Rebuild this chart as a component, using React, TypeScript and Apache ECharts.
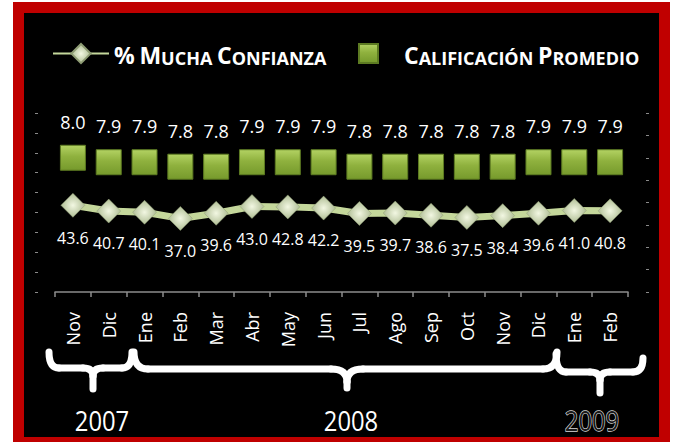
import React, { useEffect, useRef } from "react";
import * as echarts from "echarts";

const months = ["Nov", "Dic", "Ene", "Feb", "Mar", "Abr", "May", "Jun", "Jul", "Ago", "Sep", "Oct", "Nov", "Dic", "Ene", "Feb"];
const confianza = [43.6, 40.7, 40.1, 37.0, 39.6, 43.0, 42.8, 42.2, 39.5, 39.7, 38.6, 37.5, 38.4, 39.6, 41.0, 40.8];
const calificacion = [8.0, 7.9, 7.9, 7.8, 7.8, 7.9, 7.9, 7.9, 7.8, 7.8, 7.8, 7.8, 7.8, 7.9, 7.9, 7.9];
const years = ["2007", "2008", "2009"];
const seriesNames = ["% Mucha Confianza", "Calificación Promedio"];

const FONT = '"Open Sans", sans-serif';

function smallCaps(name: string): string {
  return name
    .split(" ")
    .map((w) => `{b|${w.charAt(0).toUpperCase()}}` + (w.length > 1 ? `{s|${w.slice(1).toUpperCase()}}` : ""))
    .join("{s| }");
}

function brace(x1: number, y1: number, x2: number, y2: number, xc: number, yb: number, ytip: number, rEnd: number, rMid: number) {
  const s = { stroke: "#ffffff", lineWidth: 7, fill: null, lineCap: "round", lineJoin: "round" };
  const dm = rMid * 0.8;
  return [
    { type: "bezierCurve", shape: { x1, y1, cpx1: x1, cpy1: yb, x2: x1 + rEnd, y2: yb }, style: s },
    { type: "line", shape: { x1: x1 + rEnd, y1: yb, x2: xc - rMid, y2: yb }, style: s },
    { type: "bezierCurve", shape: { x1: xc - rMid, y1: yb, cpx1: xc, cpy1: yb, x2: xc, y2: yb + dm }, style: s },
    { type: "line", shape: { x1: xc, y1: yb + dm, x2: xc, y2: ytip }, style: s },
    { type: "bezierCurve", shape: { x1: xc + rMid, y1: yb, cpx1: xc, cpy1: yb, x2: xc, y2: yb + dm }, style: s },
    { type: "line", shape: { x1: xc + rMid, y1: yb, x2: x2 - rEnd, y2: yb }, style: s },
    { type: "bezierCurve", shape: { x1: x2, y1: y2, cpx1: x2, cpy1: yb, x2: x2 - rEnd, y2: yb }, style: s },
  ];
}

export default function App() {
  const ref = useRef<HTMLDivElement>(null);
  useEffect(() => {
    if (!ref.current) return;
    const chart = echarts.init(ref.current, null, { renderer: "svg" });
    const rich = {
      b: { fontSize: 23, fontWeight: "bold", color: "#ffffff", fontFamily: FONT, verticalAlign: "bottom", lineHeight: 26 },
      s: { fontSize: 18, fontWeight: "bold", color: "#ffffff", fontFamily: FONT, verticalAlign: "bottom", lineHeight: 26 },
      gap: { width: 21 },
    };
    const squareFill = {
      type: "linear", x: 0, y: 0, x2: 0, y2: 1,
      colorStops: [
        { offset: 0, color: "#b3d263" },
        { offset: 0.45, color: "#8fb13e" },
        { offset: 1, color: "#769a2c" },
      ],
    };
    const diamondFill = {
      type: "radial", x: 0.5, y: 0.5, r: 0.6,
      colorStops: [
        { offset: 0, color: "#f2f7e2" },
        { offset: 1, color: "#a3b386" },
      ],
    };
    const graphics: any[] = [
      ...brace(49, 352, 132, 352, 93, 368, 389, 10, 10),
      ...brace(134, 352, 557, 352, 347, 369, 388, 14, 16),
      ...brace(556, 354, 643, 358, 600, 372, 393, 10, 10),
      { type: "text", x: 102, y: 420, scaleX: 0.85, style: { text: years[0], fill: "#ffffff", fontSize: 28, fontFamily: FONT, align: "center", verticalAlign: "middle" } },
      { type: "text", x: 351, y: 420, scaleX: 0.85, style: { text: years[1], fill: "#ffffff", fontSize: 28, fontFamily: FONT, align: "center", verticalAlign: "middle" } },
      { type: "text", x: 592, y: 420, scaleX: 0.85, style: { text: years[2], fill: "#1a1a1a", stroke: "#d8d8d8", lineWidth: 1.4, fontSize: 28, fontFamily: FONT, align: "center", verticalAlign: "middle" } },
    ];
    chart.setOption({
      animation: false,
      textStyle: { fontFamily: FONT },
      legend: [
        {
          data: [seriesNames[0]],
          left: 52, top: 43, padding: 0, itemWidth: 56, itemHeight: 24,
          formatter: (n: string) => smallCaps(n),
          textStyle: { color: "#ffffff", rich },
        },
        {
          data: [{ name: seriesNames[1], icon: "rect" }],
          left: 358, top: 43, padding: 0, itemWidth: 19, itemHeight: 19,
          formatter: (n: string) => "{gap|}" + smallCaps(n),
          textStyle: { color: "#ffffff", rich },
        },
      ],
      grid: { left: 55, right: 45, top: 113, bottom: 150 },
      xAxis: {
        type: "category",
        data: months,
        boundaryGap: true,
        axisLine: { lineStyle: { color: "#8c8c8c", width: 1.5 } },
        axisTick: { show: true, length: 5, interval: 0, lineStyle: { color: "#8c8c8c", width: 1.5 } },
        axisLabel: { interval: 0, rotate: 90, color: "#ffffff", fontSize: 18, margin: 20, fontFamily: FONT },
      },
      yAxis: [
        {
          type: "value", min: 0, max: 90, interval: 10, position: "left", offset: 17,
          axisLine: { show: false },
          axisTick: { show: true, length: 3, lineStyle: { color: "#8a8a8a" } },
          axisLabel: { show: false },
          splitLine: { show: false },
        },
        {
          type: "value", min: 5, max: 9, interval: 0.5, position: "right", offset: 18,
          axisLine: { show: false },
          axisTick: { show: true, length: 3, lineStyle: { color: "#8a8a8a" } },
          axisLabel: { show: false },
          splitLine: { show: false },
        },
      ],
      series: [
        {
          name: seriesNames[0],
          type: "line",
          yAxisIndex: 0,
          data: confianza,
          symbol: "diamond",
          symbolSize: 24,
          lineStyle: { color: "#c4d79b", width: 7 },
          itemStyle: { color: diamondFill, borderColor: "#8e9c74", borderWidth: 0.5 },
          label: {
            show: true, position: "bottom", distance: 12, color: "#ffffff", fontSize: 16, fontFamily: FONT,
            formatter: (p: any) => Number(p.value).toFixed(1),
          },
          z: 3,
        },
        {
          name: seriesNames[1],
          type: "scatter",
          yAxisIndex: 1,
          data: calificacion,
          symbol: "rect",
          symbolSize: 25,
          itemStyle: { color: squareFill, borderColor: "#5d7b22", borderWidth: 1, opacity: 1 },
          label: {
            show: true, position: "top", distance: 14, color: "#ffffff", fontSize: 18, fontFamily: FONT,
            formatter: (p: any) => Number(p.value).toFixed(1),
          },
          z: 3,
        },
      ],
      graphic: graphics,
    });
    return () => chart.dispose();
  }, []);

  return (
    <div style={{ position: "fixed", left: 0, top: 0, width: 673, height: 442, background: "#ffffff", overflow: "hidden" }}>
      <div style={{ position: "absolute", left: 13, top: 2, width: 657, height: 446, boxSizing: "border-box", border: "11px solid #c00000", background: "#000000" }} />
      <div ref={ref} style={{ position: "absolute", left: 0, top: 0, width: 673, height: 442 }} />
    </div>
  );
}
